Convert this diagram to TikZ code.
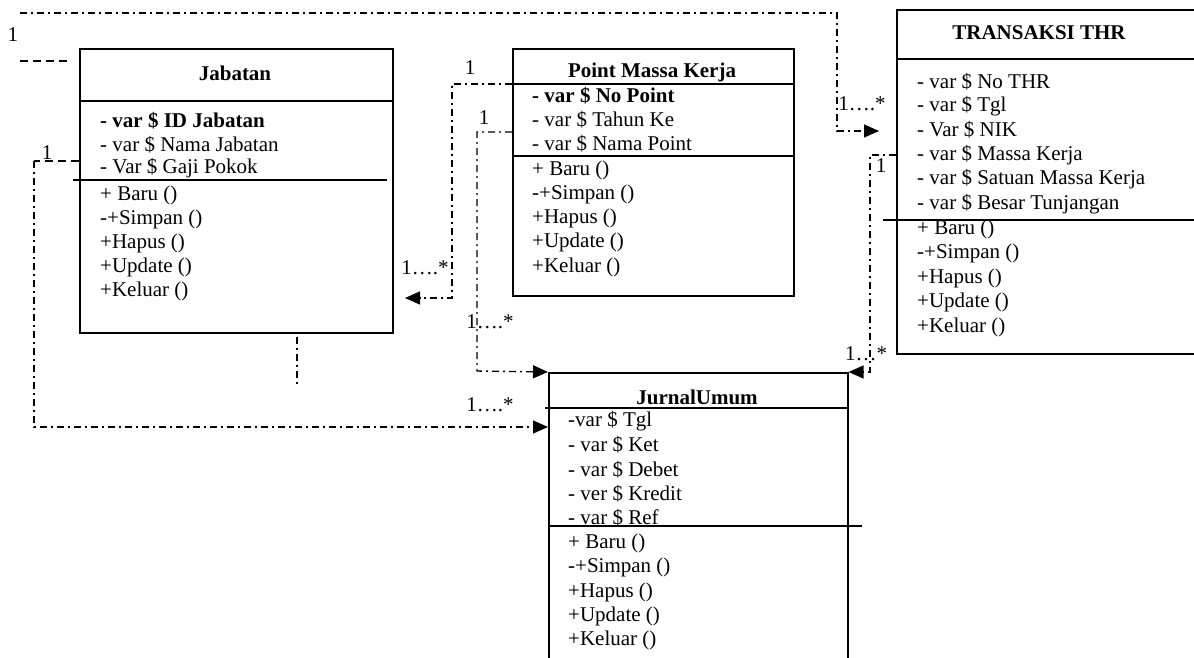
\documentclass[tikz,border=0pt]{standalone}
\usepackage{fontspec}
\setmainfont{Liberation Serif}
\usetikzlibrary{arrows.meta}
\begin{document}
\begin{tikzpicture}[x=1pt,y=-1pt,
  box/.style={draw,line width=1.6pt,minimum width=#1,anchor=north west,inner sep=0pt},
  sep/.style={line width=1.6pt},
  txt/.style={anchor=west,inner sep=0pt,font=\fontsize{21}{24}\selectfont},
  ttl/.style={inner sep=0pt,font=\fontsize{21}{24}\selectfont\bfseries},
  lbl/.style={inner sep=0pt,font=\fontsize{21}{24}\selectfont},
  dd/.style={line width=1.4pt,dash pattern=on 7pt off 4pt on 2pt off 4pt},
  dsh/.style={line width=1.4pt,dash pattern=on 8pt off 5pt},
  arr/.style={-{Triangle[length=15pt,width=13pt]}}]
\clip (0,0) rectangle (1194,657);
\fill[white] (0,0) rectangle (1194,657);

% Jabatan
\node[box=313pt,minimum height=284pt] (jab) at (79,48) {};
\draw[sep] (79,101) -- (392,101);
\draw[sep] (73,180) -- (387,180);
\node[ttl] (jabt) at (235,73) {Jabatan};
\node[txt,font=\fontsize{21}{24}\selectfont\bfseries] (j1) at (100,121) {- var \$ ID Jabatan};
\node[txt] (j2) at (100,145) {- var \$ Nama Jabatan};
\node[txt] (j3) at (100,168) {- Var \$ Gaji Pokok};
\node[txt] (j4) at (100,195) {+ Baru ()};
\node[txt] (j5) at (100,219) {-+Simpan ()};
\node[txt] (j6) at (100,243) {+Hapus ()};
\node[txt] (j7) at (100,267) {+Update ()};
\node[txt] (j8) at (100,291) {+Keluar ()};

% Point Massa Kerja
\node[box=281pt,minimum height=247pt] (pmk) at (512,48) {};
\draw[sep] (512,84) -- (793,84);
\draw[sep] (512,156) -- (793,156);
\node[ttl] (pmkt) at (652,72) {Point Massa Kerja};
\node[txt,font=\fontsize{21}{24}\selectfont\bfseries] (p1) at (532,96) {- var \$ No Point};
\node[txt] (p2) at (532,120) {- var \$ Tahun Ke};
\node[txt] (p3) at (532,144) {- var \$ Nama Point};
\node[txt] (p4) at (532,170) {+ Baru ()};
\node[txt] (p5) at (532,194) {-+Simpan ()};
\node[txt] (p6) at (532,218) {+Hapus ()};
\node[txt] (p7) at (532,242) {+Update ()};
\node[txt] (p8) at (532,267) {+Keluar ()};

% TRANSAKSI THR
\node[box=320pt,minimum height=344pt] (thr) at (896,9) {};
\draw[sep] (896,59) -- (1200,59);
\draw[sep] (883,220) -- (1200,220);
\node[ttl] (thrt) at (1039,33) {TRANSAKSI THR};
\node[txt] (t1) at (917,82) {- var \$ No THR};
\node[txt] (t2) at (917,106) {- var \$ Tgl};
\node[txt] (t3) at (917,130) {- Var \$ NIK};
\node[txt] (t4) at (917,155) {- var \$ Massa Kerja};
\node[txt] (t5) at (917,179) {- var \$ Satuan Massa Kerja};
\node[txt] (t6) at (917,204) {- var \$ Besar Tunjangan};
\node[txt] (t7) at (917,229) {+ Baru ()};
\node[txt] (t8) at (917,253) {-+Simpan ()};
\node[txt] (t9) at (917,278) {+Hapus ()};
\node[txt] (t10) at (917,302) {+Update ()};
\node[txt] (t11) at (917,327) {+Keluar ()};

% JurnalUmum
\node[box=299pt,minimum height=300pt] (ju) at (548,372) {};
\draw[sep] (545,408) -- (847,408);
\draw[sep] (548,526) -- (862,526);
\node[ttl] (jut) at (697,397) {JurnalUmum};
\node[txt] (u1) at (568,421) {-var \$ Tgl};
\node[txt] (u2) at (568,445) {- var \$ Ket};
\node[txt] (u3) at (568,470) {- var \$ Debet};
\node[txt] (u4) at (568,494) {- ver \$ Kredit};
\node[txt] (u5) at (568,518) {- var \$ Ref};
\node[txt] (u6) at (568,543) {+ Baru ()};
\node[txt] (u7) at (568,567) {-+Simpan ()};
\node[txt] (u8) at (568,592) {+Hapus ()};
\node[txt] (u9) at (568,616) {+Update ()};
\node[txt] (u10) at (568,640) {+Keluar ()};

% free ends
\coordinate (topstart) at (20,13);
\coordinate (thrin) at (879,131);
\coordinate (dstart) at (20,61);
\coordinate (dend) at (70,61);
\coordinate (stubA) at (297,337);
\coordinate (stubB) at (297,387);
\coordinate (jabin) at (405,298);

% connectors
\draw[dd,arr] (topstart) -- (837,13) -- (837,131) -- (thrin);
\draw[dsh] (dstart) -- (dend);
\draw[dsh] (jab.west |- 0,161) -- (34,161);
\draw[dd,arr] (34,161) -- (34,427) -- (ju.west |- 0,427);
\draw[dd] (stubA) -- (stubB);
\draw[dd,arr] (pmk.west |- 0,84) -- (452,84) -- (452,298) -- (jabin);
\draw[dd,arr] (pmk.west |- 0,132) -- (477,132) -- (477,371) -- (ju.north west);
\draw[dd,arr] (thr.west |- 0,155) -- (870,155) -- (870,372) -- (ju.north east);

% labels
\node[lbl] (l1) at (13,35) {1};
\node[lbl] (l2) at (862,104) {1….*};
\node[lbl] (l3) at (47,153) {1};
\node[lbl] (l4) at (470,68) {1};
\node[lbl] (l5) at (484,118) {1};
\node[lbl] (l6) at (425,268) {1….*};
\node[lbl] (l7) at (490,322) {1….*};
\node[lbl] (l8) at (490,405) {1….*};
\node[lbl] (l9) at (881,166) {1};
\node[lbl] (l10) at (866,354) {1…*};
\end{tikzpicture}
\end{document}
